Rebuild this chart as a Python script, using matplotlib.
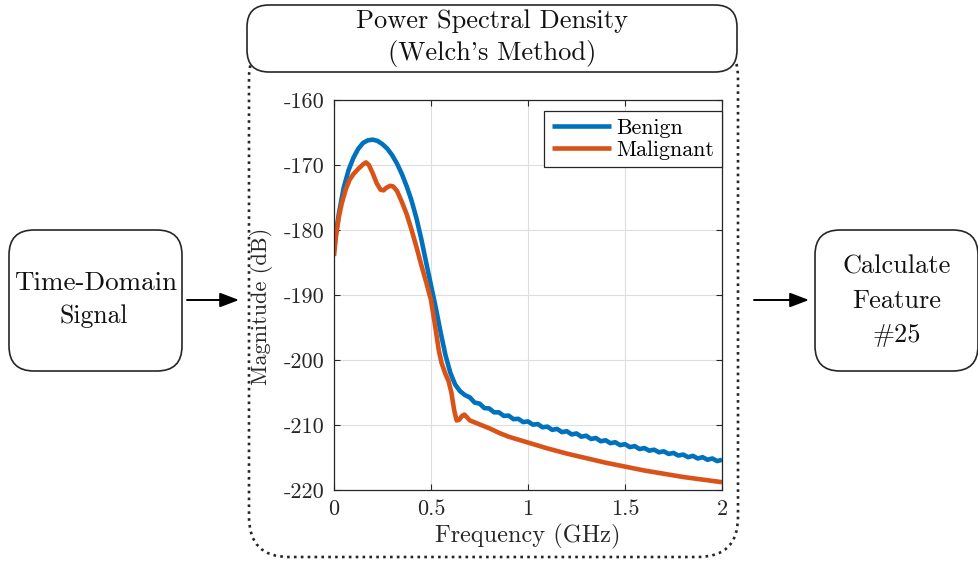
import matplotlib
matplotlib.use("Agg")
import matplotlib.pyplot as plt
from matplotlib.patches import FancyBboxPatch

plt.rcParams['font.family'] = ['cmr10', 'DejaVu Serif']
plt.rcParams['axes.unicode_minus'] = False
plt.rcParams['mathtext.fontset'] = 'cm'

# ---------------- data ----------------
benign_freq = [0.0, 0.01, 0.025, 0.05, 0.075, 0.1, 0.125, 0.15, 0.175, 0.2, 0.225, 0.25,
               0.275, 0.3, 0.325, 0.35, 0.375, 0.4, 0.425, 0.45, 0.475, 0.5, 0.525, 0.55,
               0.575, 0.6, 0.625, 0.65, 0.675,
               0.700, 0.725, 0.750, 0.775, 0.800, 0.825, 0.850, 0.875, 0.900, 0.925, 0.950,
               0.975, 1.000, 1.025, 1.050, 1.075, 1.100, 1.125, 1.150, 1.175, 1.200, 1.225,
               1.250, 1.275, 1.300, 1.325, 1.350, 1.375, 1.400, 1.425, 1.450, 1.475, 1.500,
               1.525, 1.550, 1.575, 1.600, 1.625, 1.650, 1.675, 1.700, 1.725, 1.750, 1.775,
               1.800, 1.825, 1.850, 1.875, 1.900, 1.925, 1.950, 1.975, 2.000]
benign_db = [-183.0, -180.5, -177.5, -173.5, -170.8, -168.9, -167.5, -166.6, -166.2, -166.1,
             -166.3, -166.8, -167.5, -168.5, -169.8, -171.4, -173.3, -175.5, -178.2, -181.4,
             -185.0, -188.5, -192.0, -195.8, -199.3, -202.0, -203.8, -204.8, -205.4,
             -205.75, -206.55, -206.70, -207.40, -207.45, -208.05, -208.05, -208.60, -208.55,
             -209.10, -209.05, -209.55, -209.45, -209.95, -209.85, -210.35, -210.25, -210.75,
             -210.60, -211.10, -210.95, -211.45, -211.30, -211.80, -211.65, -212.15, -212.00,
             -212.50, -212.35, -212.80, -212.65, -213.10, -212.95, -213.40, -213.25, -213.70,
             -213.55, -213.95, -213.80, -214.20, -214.05, -214.45, -214.30, -214.70, -214.55,
             -214.95, -214.75, -215.15, -214.95, -215.35, -215.15, -215.55, -215.35]
malignant_freq = [0.0, 0.01, 0.025, 0.04, 0.06, 0.08, 0.1, 0.125, 0.15, 0.165, 0.18, 0.2,
                  0.22, 0.24, 0.255, 0.27, 0.29, 0.305, 0.325, 0.35, 0.375, 0.4, 0.425, 0.45,
                  0.475, 0.5, 0.52, 0.54, 0.555, 0.575, 0.59, 0.605, 0.62, 0.632, 0.645, 0.66,
                  0.672, 0.685, 0.7, 0.725, 0.75, 0.8, 0.85, 0.9, 1.0, 1.1, 1.2, 1.3, 1.4,
                  1.5, 1.6, 1.7, 1.8, 1.9, 2.0]
malignant_db = [-184.0, -181.0, -178.0, -175.9, -173.8, -172.3, -171.4, -170.6, -169.9, -169.6,
                -170.0, -171.3, -172.8, -173.8, -173.9, -173.5, -173.2, -173.3, -174.0, -175.7,
                -177.6, -180.0, -182.6, -185.4, -188.0, -190.8, -194.5, -198.5, -200.5, -202.2,
                -203.2, -205.0, -207.8, -209.3, -209.2, -208.6, -208.4, -208.8, -209.3, -209.6,
                -209.9, -210.5, -211.2, -211.8, -212.7, -213.6, -214.4, -215.1, -215.8, -216.4,
                -217.0, -217.5, -218.0, -218.4, -218.8]
series_labels = ['Benign', 'Malignant']
x_ticks = [0, 0.5, 1, 1.5, 2]
x_tick_labels = ['0', '0.5', '1', '1.5', '2']
y_ticks = [-220, -210, -200, -190, -180, -170, -160]
y_tick_labels = ['-220', '-210', '-200', '-190', '-180', '-170', '-160']
title_lines = ['Power Spectral Density', "(Welch's Method)"]
left_block = ['Time-Domain', 'Signal']
right_block = ['Calculate', 'Feature', '#25']

W, H = 979, 561
fig = plt.figure(figsize=(W / 100, H / 100), dpi=100)

# overlay for the diagram (pixel coordinates)
ov = fig.add_axes([0, 0, 1, 1], zorder=0)
ov.set_xlim(0, W)
ov.set_ylim(H, 0)
ov.axis('off')

edge = '#262626'
# dotted surrounding box
ov.add_patch(FancyBboxPatch((249, 38), 489, 519, boxstyle='round,pad=0,rounding_size=40',
                            fc='none', ec=edge, lw=1.9, ls=(0, (1, 1.6))))
# title box
ov.add_patch(FancyBboxPatch((247, 5), 490, 67, boxstyle='round,pad=0,rounding_size=22',
                            fc='white', ec=edge, lw=1.2))
ov.text(492, 21, title_lines[0], ha='center', va='center', fontsize=19, color='#111')
ov.text(492, 53, title_lines[1], ha='center', va='center', fontsize=19, color='#111')

# left block
ov.add_patch(FancyBboxPatch((9, 230), 173, 141, boxstyle='round,pad=0,rounding_size=25',
                            fc='white', ec=edge, lw=1.2))
ov.text(96, 283, left_block[0], ha='center', va='center', fontsize=19.5, color='#111')
ov.text(94, 316, left_block[1], ha='center', va='center', fontsize=18.5, color='#111')

# right block
ov.add_patch(FancyBboxPatch((815, 230), 163, 141, boxstyle='round,pad=0,rounding_size=25',
                            fc='white', ec=edge, lw=1.2))
for i, t in enumerate(right_block):
    ov.text(897, 267 + 34 * i, t, ha='center', va='center', fontsize=19, color='#111')

# arrows
ap = dict(arrowstyle='-|>,head_length=0.58,head_width=0.22', lw=1.4, color='black',
          mutation_scale=20, shrinkA=0, shrinkB=0)
ov.annotate('', xy=(239, 300), xytext=(187, 300), arrowprops=ap)
ov.annotate('', xy=(809, 300), xytext=(754, 300), arrowprops=ap)

# ---------------- chart ----------------
ax = fig.add_axes([334 / W, 1 - 490 / H, 388 / W, 390 / H], zorder=2)
ax.plot(benign_freq, benign_db, color='#0072BD', lw=3.3, label=series_labels[0],
        solid_joinstyle='round', solid_capstyle='butt')
ax.plot(malignant_freq, malignant_db, color='#D95319', lw=3.3, label=series_labels[1],
        solid_joinstyle='round', solid_capstyle='butt')
ax.set_xlim(0, 2)
ax.set_ylim(-220, -160)
ax.set_xticks(x_ticks)
ax.set_xticklabels(x_tick_labels)
ax.set_yticks(y_ticks)
ax.set_yticklabels(y_tick_labels)
ax.grid(True, color='#dedede', lw=0.8)
ax.set_axisbelow(True)
ax.tick_params(direction='in', length=4, width=0.8, top=True, right=True,
               labelsize=16, colors=edge, pad=7)
for s in ax.spines.values():
    s.set_color(edge)
    s.set_linewidth(0.9)
ax.set_xlabel('Frequency (GHz)', fontsize=17.5, color=edge, labelpad=3)
ax.set_ylabel('Magnitude (dB)', fontsize=16, color=edge)
ax.yaxis.set_label_coords(-0.157, 0.47)
leg = ax.legend(loc='upper right', bbox_to_anchor=(1.0, 1 - 10.7 / 390), borderaxespad=0,
                fontsize=15.8, handlelength=2.7, handletextpad=0.25, labelspacing=0.1,
                borderpad=0.35, fancybox=False, framealpha=1, edgecolor=edge)
leg.get_frame().set_linewidth(0.9)

fig.savefig('out.png', dpi=100)
